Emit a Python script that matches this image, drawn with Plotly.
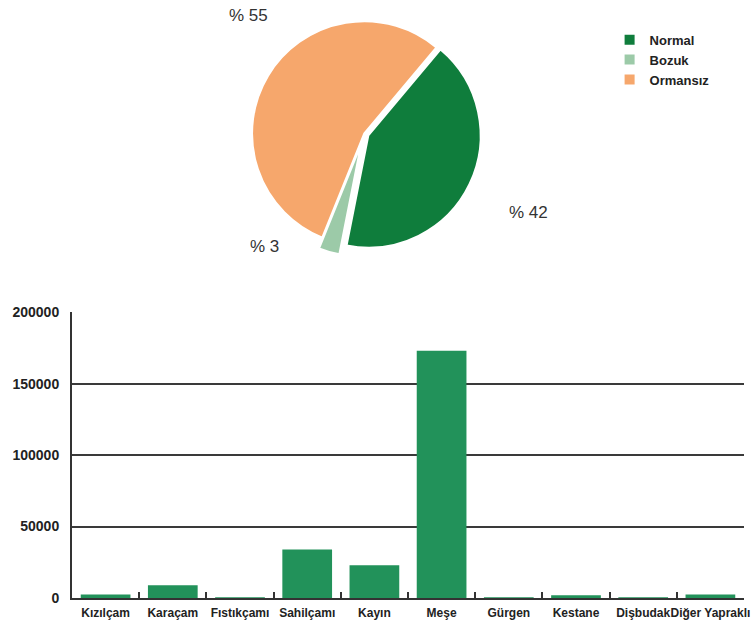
import plotly.graph_objects as go

# Pie data
pie_labels = ["Normal", "Bozuk", "Ormansız"]
pie_values = [42, 3, 55]
pie_text = ["% 42", "% 3", "% 55"]
pie_colors = ["#0f7d3c", "#9ccaa8", "#f6a76c"]

# Bar data
species = ["Kızılçam", "Karaçam", "Fıstıkçamı", "Sahilçamı", "Kayın",
           "Meşe", "Gürgen", "Kestane", "Dişbudak", "Diğer Yapraklı"]
areas = [2500, 9000, 500, 34000, 23000, 173000, 300, 2000, 300, 2500]
y_ticks = [0, 50000, 100000, 150000, 200000]

FONT = "Liberation Sans, Arial, sans-serif"

fig = go.Figure()

fig.add_trace(go.Pie(
    labels=pie_labels, values=pie_values,
    textinfo="none",
    marker=dict(colors=pie_colors, line=dict(color="white", width=2)),
    sort=False, direction="clockwise", rotation=40,
    pull=[0.04, 0.10, 0],
    domain=dict(x=[0.18, 0.69], y=[0.58, 1.0]),
    showlegend=True,
    hoverinfo="label+percent",
))

fig.add_trace(go.Bar(
    x=species, y=areas, marker=dict(color="#22925a", line=dict(width=0)),
    showlegend=False, xaxis="x", yaxis="y",
))

# percentage labels of the pie
label_pos = {"% 55": (0.262, 0.99), "% 42": (0.679, 0.656), "% 3": (0.287, 0.597)}
annotations = []
for t in pie_text:
    ax, ay = label_pos[t]
    annotations.append(dict(text=t, x=ax, y=ay, xref="paper", yref="paper",
                            xanchor="center", yanchor="middle", showarrow=False,
                            font=dict(size=17, family=FONT, color="#333333")))

fig.update_layout(
    width=752, height=643,
    margin=dict(l=72, r=8, t=10, b=45),
    paper_bgcolor="white", plot_bgcolor="white",
    font=dict(family=FONT, color="#222222"),
    bargap=0.26,
    annotations=annotations,
    legend=dict(x=0.80, y=0.975, xanchor="left", yanchor="top",
                font=dict(size=13, family=FONT, color="#222222", weight="bold"),
                bgcolor="rgba(0,0,0,0)"),
    xaxis=dict(domain=[0, 1], showline=True, linecolor="#333333", linewidth=2,
               ticks="inside", ticklen=6, tickcolor="#333333", tickwidth=2,
               tickson="boundaries", tickangle=0, automargin=False,
               ticklabelstandoff=3,
               tickfont=dict(size=12, family=FONT, color="#222222", weight="bold"),
               showgrid=False, anchor="y"),
    yaxis=dict(domain=[0, 0.486], range=[0, 200000], tickvals=y_ticks,
               tickformat="d",
               showline=True, linecolor="#333333", linewidth=2,
               showgrid=True, gridcolor="#3a3a3a", gridwidth=1.5,
               zeroline=False, ticks="", automargin=False,
               tickfont=dict(size=14, family=FONT, color="#222222", weight="bold"),
               ticklabelstandoff=8, anchor="x"),
)

fig.write_html("out.html")
